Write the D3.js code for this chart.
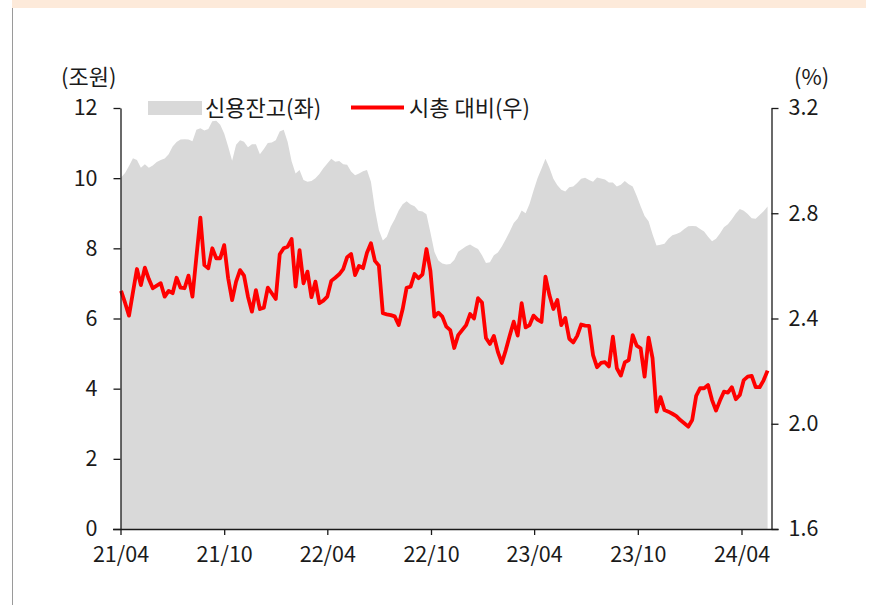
<!DOCTYPE html>
<html>
<head>
<meta charset="utf-8">
<script src="https://cdn.jsdelivr.net/npm/d3@7"></script>
<style>
  html, body { margin: 0; padding: 0; background: #fff; }
  svg { display: block; font-family: "Noto Sans CJK KR", "Noto Sans", sans-serif; }
</style>
</head>
<body>
<svg id="chart" width="880" height="605"></svg>
<script>
// Weekly observations (Fridays), 2021-04-02 .. 2024-05-17
const firstWeek = new Date(2021, 3, 2);
const lastWeek = new Date(2024, 4, 17);

// 신용잔고 (조원), left axis
const credit = [
  10.02, 10.15, 10.35, 10.57, 10.52, 10.30, 10.40, 10.30, 10.36, 10.46,
  10.52, 10.56, 10.68, 10.90, 11.03, 11.10, 11.11, 11.10, 11.05, 11.38,
  11.42, 11.36, 11.40, 11.62, 11.64, 11.52, 11.27, 10.90, 10.50, 10.95,
  11.08, 11.04, 10.88, 10.97, 10.97, 10.68, 10.83, 11.00, 11.02, 11.08,
  11.33, 11.38, 11.03, 10.48, 10.13, 10.23, 9.95, 9.90, 9.92, 10.00,
  10.12, 10.28, 10.42, 10.55, 10.47, 10.49, 10.40, 10.38, 10.19, 10.08,
  10.13, 10.20, 10.23, 9.90, 9.12, 8.52, 8.22, 8.33, 8.62, 8.83,
  9.08, 9.26, 9.34, 9.25, 9.20, 9.07, 9.05, 8.97, 8.45, 7.90,
  7.65, 7.57, 7.54, 7.55, 7.67, 7.90, 7.98, 8.06, 8.11, 8.04,
  7.98, 7.80, 7.58, 7.60, 7.80, 7.88, 8.05, 8.26, 8.48, 8.72,
  8.85, 9.08, 9.00, 9.27, 9.65, 10.00, 10.27, 10.55, 10.30, 9.98,
  9.80, 9.67, 9.62, 9.74, 9.76, 9.86, 9.98, 10.01, 9.95, 9.90,
  10.02, 9.99, 9.96, 9.88, 9.88, 9.76, 9.81, 9.92, 9.83, 9.76,
  9.50, 9.20, 8.92, 8.77, 8.40, 8.08, 8.10, 8.13, 8.27, 8.37,
  8.41, 8.46, 8.55, 8.63, 8.64, 8.63, 8.55, 8.48, 8.33, 8.20,
  8.27, 8.42, 8.60, 8.69, 8.83, 8.99, 9.12, 9.07, 8.98, 8.86,
  8.84, 8.95, 9.06, 9.19
];

// 시총 대비 (%), right axis
const ratio = [
  2.505, 2.460, 2.411, 2.500, 2.588, 2.527, 2.593, 2.550, 2.515, 2.525,
  2.534, 2.483, 2.505, 2.496, 2.555, 2.517, 2.515, 2.563, 2.483, 2.635,
  2.783, 2.603, 2.591, 2.667, 2.629, 2.629, 2.679, 2.553, 2.470, 2.540,
  2.584, 2.563, 2.483, 2.426, 2.508, 2.436, 2.441, 2.517, 2.496, 2.474,
  2.644, 2.667, 2.673, 2.702, 2.521, 2.660, 2.534, 2.578, 2.481, 2.540,
  2.458, 2.468, 2.483, 2.543, 2.555, 2.568, 2.588, 2.633, 2.645, 2.565,
  2.600, 2.591, 2.650, 2.686, 2.619, 2.601, 2.420, 2.416, 2.413, 2.408,
  2.375, 2.436, 2.517, 2.521, 2.569, 2.553, 2.568, 2.664, 2.580, 2.407,
  2.422, 2.407, 2.369, 2.356, 2.288, 2.337, 2.356, 2.375, 2.417, 2.400,
  2.477, 2.461, 2.326, 2.303, 2.334, 2.273, 2.231, 2.280, 2.335, 2.388,
  2.335, 2.458, 2.366, 2.375, 2.411, 2.396, 2.387, 2.559, 2.489, 2.436,
  2.470, 2.375, 2.402, 2.323, 2.309, 2.334, 2.377, 2.373, 2.372, 2.261,
  2.215, 2.231, 2.234, 2.218, 2.331, 2.211, 2.183, 2.233, 2.242, 2.337,
  2.297, 2.287, 2.179, 2.327, 2.249, 2.046, 2.101, 2.052, 2.046, 2.038,
  2.029, 2.014, 2.002, 1.989, 2.014, 2.106, 2.135, 2.135, 2.147, 2.090,
  2.050, 2.088, 2.122, 2.118, 2.139, 2.093, 2.109, 2.166, 2.179, 2.182,
  2.139, 2.139, 2.165, 2.202
];

const leftTicks = [0, 2, 4, 6, 8, 10, 12];
const rightTicks = [1.6, 2.0, 2.4, 2.8, 3.2];
const monthTicks = ["2021-04-01", "2021-10-01", "2022-04-01", "2022-10-01",
                    "2023-04-01", "2023-10-01", "2024-04-01"];
const leftUnit = "(조원)";
const rightUnit = "(%)";
const seriesNames = ["신용잔고(좌)", "시총 대비(우)"];

const dates = d3.timeFriday.range(firstWeek, d3.timeDay.offset(lastWeek, 1));
const n = Math.min(dates.length, credit.length, ratio.length);
const rows = d3.range(n).map(i => ({ date: dates[i], credit: credit[i], ratio: ratio[i] }));

const svg = d3.select("#chart");
const plot = { left: 120.5, right: 771.5, top: 108, bottom: 529 };

// page frame: top band and left rule
svg.append("rect").attr("x", 12).attr("y", 0).attr("width", 854).attr("height", 8).attr("fill", "#fdeada");
svg.append("line").attr("x1", 12.5).attr("x2", 12.5).attr("y1", 8).attr("y2", 605)
  .attr("stroke", "#9a9a9a").attr("stroke-width", 1);

const x = d3.scaleTime()
  .domain([new Date(2021, 3, 1), new Date(2024, 3, 1)])
  .range([120.5, 741.5]);
const yL = d3.scaleLinear().domain([0, 12]).range([plot.bottom, plot.top]);
const yR = d3.scaleLinear().domain([1.6, 3.2]).range([plot.bottom, plot.top]);

// credit balance area
svg.append("path")
  .datum(rows)
  .attr("fill", "#d9d9d9")
  .attr("d", d3.area().x(d => x(d.date)).y0(yL(0)).y1(d => yL(d.credit)));

// ratio line
svg.append("path")
  .datum(rows)
  .attr("fill", "none")
  .attr("stroke", "#ff0000")
  .attr("stroke-width", 3.8)
  .attr("stroke-linejoin", "round")
  .attr("d", d3.line().x(d => x(d.date)).y(d => yR(d.ratio)));

const axisColor = "#1a1a1a";
const tickFont = 21.5;
const labelFont = 22;

// left axis
const gL = svg.append("g").attr("transform", `translate(${plot.left},0)`)
  .call(d3.axisLeft(yL).tickValues(leftTicks).tickSize(7).tickPadding(16).tickSizeOuter(0));
// right axis
const gR = svg.append("g").attr("transform", `translate(${plot.right},0)`)
  .call(d3.axisRight(yR).tickValues(rightTicks).tickFormat(d3.format(".1f")).tickSize(7).tickPadding(10).tickSizeOuter(0));
// bottom axis
const gB = svg.append("g").attr("transform", `translate(0,${plot.bottom})`)
  .call(d3.axisBottom(x).tickValues(monthTicks.map(s => d3.timeParse("%Y-%m-%d")(s)))
    .tickFormat(d3.timeFormat("%y/%m")).tickSize(6).tickPadding(12).tickSizeOuter(0));
gB.select(".domain").remove();
svg.append("line").attr("x1", 113).attr("x2", 778.5).attr("y1", plot.bottom + 0.5).attr("y2", plot.bottom + 0.5)
  .attr("stroke", axisColor).attr("stroke-width", 1.3);

[gL, gR, gB].forEach(g => {
  g.selectAll(".domain").attr("stroke", axisColor).attr("stroke-width", 1.3);
  g.selectAll(".tick line").attr("stroke", axisColor).attr("stroke-width", 1.3);
  g.selectAll("text").attr("fill", "#1a1a1a").style("font-size", tickFont + "px")
    .style("font-family", '"Noto Sans CJK KR", "Noto Sans", sans-serif');
});

// unit labels
svg.append("text").attr("x", 61).attr("y", 85).attr("font-size", labelFont).attr("fill", "#1a1a1a").text(leftUnit);
svg.append("text").attr("x", 794).attr("y", 85).attr("font-size", labelFont).attr("fill", "#1a1a1a").text(rightUnit);

// legend
const lg = svg.append("g");
lg.append("rect").attr("x", 148).attr("y", 101).attr("width", 54).attr("height", 14).attr("fill", "#d9d9d9");
lg.append("text").attr("x", 205).attr("y", 116).attr("font-size", labelFont).attr("fill", "#1a1a1a").text(seriesNames[0]);
lg.append("line").attr("x1", 351).attr("x2", 404).attr("y1", 107.5).attr("y2", 107.5)
  .attr("stroke", "#ff0000").attr("stroke-width", 3.8);
lg.append("text").attr("x", 409).attr("y", 116).attr("font-size", labelFont).attr("fill", "#1a1a1a").text(seriesNames[1]);
</script>
</body>
</html>
